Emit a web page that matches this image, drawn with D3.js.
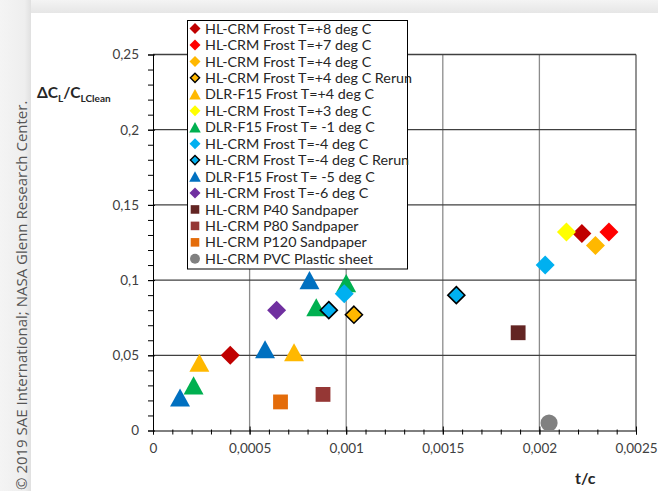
<!DOCTYPE html>
<html>
<head>
<meta charset="utf-8">
<script src="https://cdn.jsdelivr.net/npm/d3@7"></script>
<style>
  html, body { margin: 0; padding: 0; background: #f2f2f2; }
  svg { display: block; }
</style>
</head>
<body>
<svg id="chart" width="658" height="491"></svg>
<script>
// ---------- DATA ----------
const seriesNames = [
  "HL-CRM Frost T=+8 deg C",
  "HL-CRM Frost T=+7 deg C",
  "HL-CRM Frost T=+4 deg C",
  "HL-CRM Frost T=+4 deg C Rerun",
  "DLR-F15 Frost T=+4 deg C",
  "HL-CRM Frost T=+3 deg C",
  "DLR-F15 Frost T= -1 deg C",
  "HL-CRM Frost T=-4 deg C",
  "HL-CRM Frost T=-4 deg C Rerun",
  "DLR-F15 Frost T= -5 deg C",
  "HL-CRM Frost T=-6 deg C",
  "HL-CRM P40 Sandpaper",
  "HL-CRM P80 Sandpaper",
  "HL-CRM P120 Sandpaper",
  "HL-CRM PVC Plastic sheet"
];
const seriesShapes = ["diamond","diamond","diamond","diamond","triangle","diamond","triangle","diamond","diamond","triangle","diamond","square","square","square","circle"];
const seriesColors = ["#C00000","#FF0000","#FFB800","#FFB800","#FFB800","#FFFF00","#00B050","#00B0F0","#00B0F0","#0070C0","#7030A0","#632523","#953735","#E46C0A","#808080"];
const seriesOutlined = [false,false,false,true,false,false,false,false,true,false,false,false,false,false,false];

// t/c values per series
const seriesX = [
  [0.00040, 0.00222],
  [0.00236],
  [0.00229],
  [0.00104],
  [0.00024, 0.00073],
  [0.00214],
  [0.00021, 0.000845, 0.00100],
  [0.00099, 0.00203],
  [0.00091, 0.00157],
  [0.00014, 0.00058, 0.00081],
  [0.00064],
  [0.00189],
  [0.00088],
  [0.00066],
  [0.00205]
];
// dCL/CLclean values per series
const seriesY = [
  [0.050, 0.131],
  [0.132],
  [0.123],
  [0.077],
  [0.045, 0.052],
  [0.132],
  [0.030, 0.082, 0.098],
  [0.091, 0.110],
  [0.080, 0.090],
  [0.022, 0.054, 0.100],
  [0.080],
  [0.065],
  [0.024],
  [0.019],
  [0.005]
];

const xTicks = [0, 0.0005, 0.001, 0.0015, 0.002, 0.0025];
const yTicks = [0, 0.05, 0.1, 0.15, 0.2, 0.25];
const xMinorTicks = d3.range(0, 26).map(i => i / 10000);
const yMinorTicks = d3.range(0, 26).map(i => i / 100);

const xLabel = "t/c";
const copyright = "© 2019 SAE International; NASA Glenn Research Center.";

// ---------- DRAW ----------
const svg = d3.select("#chart");
const W = 658, H = 491;

// background card with soft shadow
const defs = svg.append("defs");
const gTop = defs.append("linearGradient").attr("id","gTop").attr("x1",0).attr("y1",0).attr("x2",0).attr("y2",1);
gTop.append("stop").attr("offset","0%").attr("stop-color","#f4f4f4");
gTop.append("stop").attr("offset","100%").attr("stop-color","#e6e6e6");
const gLeft = defs.append("linearGradient").attr("id","gLeft").attr("x1",0).attr("y1",0).attr("x2",1).attr("y2",0);
gLeft.append("stop").attr("offset","0%").attr("stop-color","#f4f4f4");
gLeft.append("stop").attr("offset","80%").attr("stop-color","#eeeeee");
gLeft.append("stop").attr("offset","100%").attr("stop-color","#e0e0e0");
svg.append("rect").attr("x",0).attr("y",0).attr("width",W).attr("height",H).attr("fill","#f3f3f3");
svg.append("rect").attr("x",0).attr("y",0).attr("width",W).attr("height",13).attr("fill","url(#gTop)");
svg.append("rect").attr("x",0).attr("y",0).attr("width",31).attr("height",H).attr("fill","url(#gLeft)");
svg.append("rect").attr("x",31).attr("y",13).attr("width",W-31).attr("height",H-13).attr("fill","#ffffff");

const x = d3.scaleLinear().domain([0, 0.0025]).range([153, 636]);
const y = d3.scaleLinear().domain([0, 0.25]).range([430.5, 54.5]);

const locale = d3.formatLocale({decimal: ",", thousands: ".", grouping: [3], currency: ["", ""]});
const fmt = locale.format("~g");

// grid
const grid = svg.append("g");
grid.selectAll("line.vg").data(xTicks.filter(d => d > 0)).join("line")
  .attr("x1", d => x(d)).attr("x2", d => x(d)).attr("y1", y(0)).attr("y2", y(0.25))
  .attr("stroke", d => d === 0.0025 ? "#595959" : "#8c8c8c").attr("stroke-width", 1.3);
grid.selectAll("line.hg").data(yTicks.filter(d => d > 0)).join("line")
  .attr("x1", x(0)).attr("x2", x(0.0025)).attr("y1", d => y(d)).attr("y2", d => y(d))
  .attr("stroke", "#404040").attr("stroke-width", 1.3);

// axes
const tickFont = "Lato, 'Open Sans', sans-serif";
const xAxisMinor = d3.axisBottom(x).tickValues(xMinorTicks).tickFormat("").tickSizeInner(4).tickSizeOuter(0);
const gxm = svg.append("g").attr("transform", `translate(0,${y(0)})`).call(xAxisMinor);
gxm.selectAll(".tick line").attr("y1", -1).attr("stroke", "#000");
gxm.select(".domain").attr("stroke", "#000");
const xAxis = d3.axisBottom(x).tickValues(xTicks).tickFormat(fmt).tickSize(4).tickPadding(9);
const gx = svg.append("g").attr("transform", `translate(0,${y(0)})`).call(xAxis);
gx.select(".domain").remove();
gx.selectAll(".tick line").attr("y1", -4).attr("stroke", "#000");
gx.selectAll(".tick text").attr("font-family", tickFont).attr("font-size", 13.5).attr("fill", "#404040");

const yAxisMinor = d3.axisLeft(y).tickValues(yMinorTicks).tickFormat("").tickSizeInner(5).tickSizeOuter(0);
const gym = svg.append("g").attr("transform", `translate(${x(0)},0)`).call(yAxisMinor);
gym.selectAll(".tick line").attr("x1", 1).attr("stroke", "#000");
gym.select(".domain").attr("stroke", "#000");
const yAxis = d3.axisLeft(y).tickValues(yTicks).tickFormat(fmt).tickSize(5).tickPadding(9);
const gy = svg.append("g").attr("transform", `translate(${x(0)},0)`).call(yAxis);
gy.select(".domain").remove();
gy.selectAll(".tick line").attr("x1", 2).attr("stroke", "#000");
gy.selectAll(".tick text").attr("font-family", tickFont).attr("font-size", 13.5).attr("fill", "#404040");

// marker paths
function shapePath(shape, s) {
  if (shape === "diamond") return `M0,${-s}L${s},0L0,${s}L${-s},0Z`;
  if (shape === "triangle") { const w = s * 1.05, h = s * 0.95; return `M0,${-h}L${w},${h}L${-w},${h}Z`; }
  if (shape === "square") return `M${-s*0.78},${-s*0.78}h${s*1.56}v${s*1.56}h${-s*1.56}Z`;
  return d3.symbol().type(d3.symbolCircle).size(Math.PI * (s*0.9) * (s*0.9))();
}

// points
const points = [];
seriesNames.forEach((n, i) => {
  seriesX[i].forEach((xv, j) => points.push({s: i, x: xv, y: seriesY[i][j]}));
});
svg.append("g").selectAll("path").data(points).join("path")
  .attr("transform", d => `translate(${x(d.x)},${y(d.y)})`)
  .attr("d", d => shapePath(seriesShapes[d.s], seriesOutlined[d.s] ? 8.5 : 9.5))
  .attr("fill", d => seriesColors[d.s])
  .attr("stroke", d => seriesOutlined[d.s] ? "#000" : "none")
  .attr("stroke-width", 1.6)
  .attr("stroke-linejoin", "miter");

// legend
const lg = svg.append("g");
lg.append("rect").attr("x", 187.5).attr("y", 20.5).attr("width", 220).attr("height", 248.5)
  .attr("fill", "#fff").attr("stroke", "#000").attr("stroke-width", 1);
const rowY = i => 28.5 + i * 16.45;
seriesNames.forEach((n, i) => {
  lg.append("path")
    .attr("transform", `translate(195,${rowY(i)})`)
    .attr("d", shapePath(seriesShapes[i], seriesOutlined[i] ? 4.6 : 5.5))
    .attr("fill", seriesColors[i])
    .attr("stroke", seriesOutlined[i] ? "#000" : "none")
    .attr("stroke-width", 1.4);
  lg.append("text").attr("x", 205).attr("y", rowY(i)).attr("dy", "0.36em")
    .attr("font-family", tickFont).attr("font-size", 14.3).attr("fill", "#262626")
    .text(n);
});

// axis titles
const yt = svg.append("text").attr("x", 37).attr("y", 98)
  .attr("font-family", tickFont).attr("font-weight", "bold").attr("font-size", 15.5).attr("fill", "#262626");
yt.append("tspan").text("ΔC");
yt.append("tspan").attr("font-size", 10).attr("dy", 4).text("L");
yt.append("tspan").attr("dy", -4).text("/C");
yt.append("tspan").attr("font-size", 10).attr("dy", 4).text("LClean");

svg.append("text").attr("x", 575).attr("y", 484)
  .attr("font-family", tickFont).attr("font-weight", "bold").attr("font-size", 16).attr("fill", "#262626")
  .text(xLabel);

// copyright
svg.append("text")
  .attr("transform", "translate(27,490) rotate(-90)")
  .attr("font-family", "'Open Sans', sans-serif").attr("font-size", 15).attr("fill", "#555")
  .text(copyright);
</script>
</body>
</html>
